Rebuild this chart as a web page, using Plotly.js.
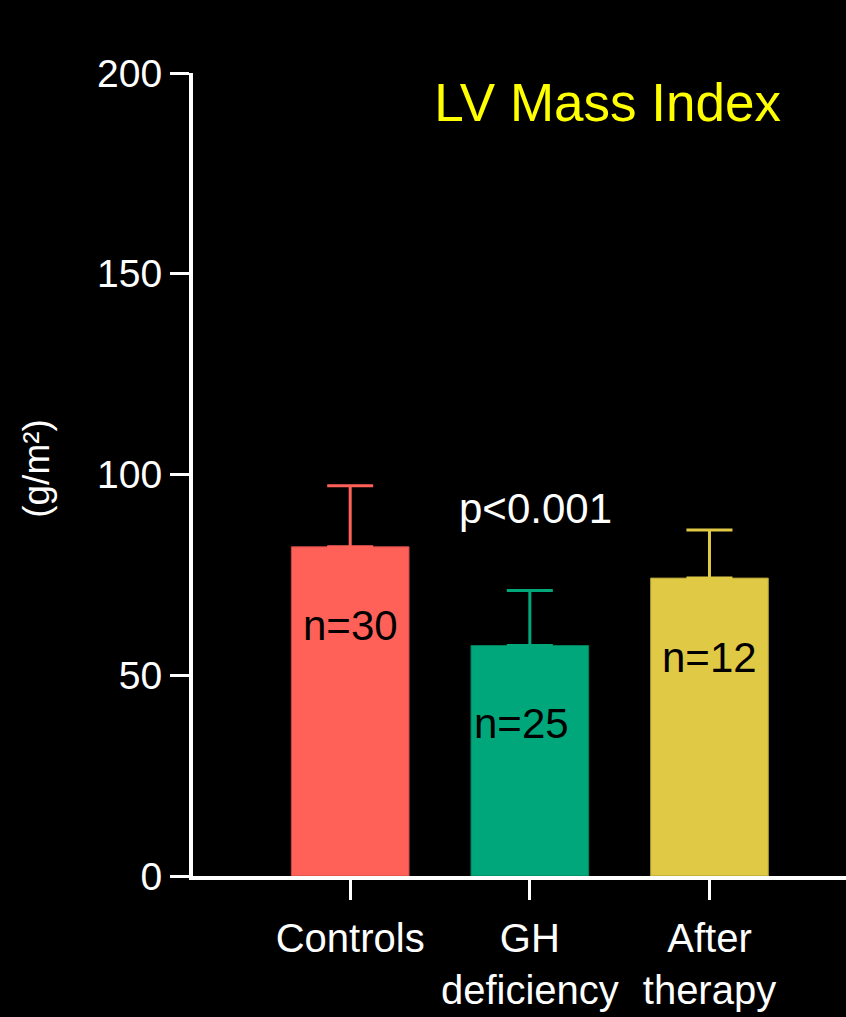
<!DOCTYPE html>
<html>
<head>
<meta charset="utf-8">
<script src="https://cdn.plot.ly/plotly-3.0.1.min.js"></script>
<style>html,body{margin:0;padding:0;background:#000;}#chart{width:846px;height:1017px;}</style>
</head>
<body>
<div id="chart"></div>
<script>
const categories = ["Controls", "GH<br>deficiency", "After<br>therapy"];
const means = [82, 57.4, 74.2];
const sdUpper = [15.2, 13.7, 12.0];
const nLabels = ["n=30", "n=25", "n=12"];
const nLabelY = [62.5, 37.9, 54.5];
const barColors = ["#FF6159", "#00A77A", "#E0CA45"];
const outlineColors = ["#C84A44", "#00805D", "#AD9C35"];

const font = "Liberation Sans, Arial, Helvetica, sans-serif";

const traces = categories.map((c, i) => ({
  type: "bar",
  x: [c],
  y: [means[i]],
  width: 0.655,
  marker: {color: barColors[i], line: {color: outlineColors[i], width: 1}},
  error_y: {type: "data", symmetric: false, array: [sdUpper[i]], arrayminus: [0],
            color: barColors[i], thickness: 3, width: 23},
  showlegend: false,
  hoverinfo: "skip"
}));

const nShift = [0, -8, 0];
const annotations = nLabels.map((t, i) => ({
  x: categories[i], y: nLabelY[i], xref: "x", yref: "y", xshift: nShift[i],
  text: t, showarrow: false, font: {family: font, size: 42, color: "#000"},
  xanchor: "center", yanchor: "middle"
}));
annotations.push({
  x: 1.03, y: 91.5, xref: "x", yref: "y", text: "p<0.001", showarrow: false,
  font: {family: font, size: 42, color: "#fff"}, xanchor: "center", yanchor: "middle"
});
annotations.push({
  x: -0.24, y: 0.5, xref: "paper", yref: "paper", text: "(g/m²)", textangle: -90,
  showarrow: false, font: {family: font, size: 37, color: "#fff"},
  xanchor: "center", yanchor: "middle", yshift: 6
});

const layout = {
  width: 846, height: 1017,
  paper_bgcolor: "#000", plot_bgcolor: "#000",
  margin: {l: 193, r: 0, t: 73, b: 141},
  barmode: "overlay",
  title: {text: "LV Mass Index", font: {family: font, size: 53, color: "#FFFF00"},
          x: 0.635, xref: "paper", xanchor: "center", y: 0.899, yref: "container", yanchor: "middle"},
  xaxis: {type: "category", range: [-0.875, 2.76], showline: true, linecolor: "#fff", linewidth: 4,
          ticks: "outside", ticklen: 20, tickwidth: 3, tickcolor: "#fff", ticklabelstandoff: 4,
          tickfont: {family: font, size: 40, color: "#fff"}, showgrid: false, zeroline: false,
          fixedrange: true},
  yaxis: {range: [0, 200], tickvals: [0, 50, 100, 150, 200], showline: true, linecolor: "#fff", linewidth: 4,
          ticks: "outside", ticklen: 19, tickwidth: 3, tickcolor: "#fff",
          tickfont: {family: font, size: 39, color: "#fff"}, showgrid: false, zeroline: false,
          fixedrange: true},
  annotations: annotations,
  font: {family: font, color: "#fff"}
};

Plotly.newPlot("chart", traces, layout, {displayModeBar: false, staticPlot: true});
</script>
</body>
</html>
